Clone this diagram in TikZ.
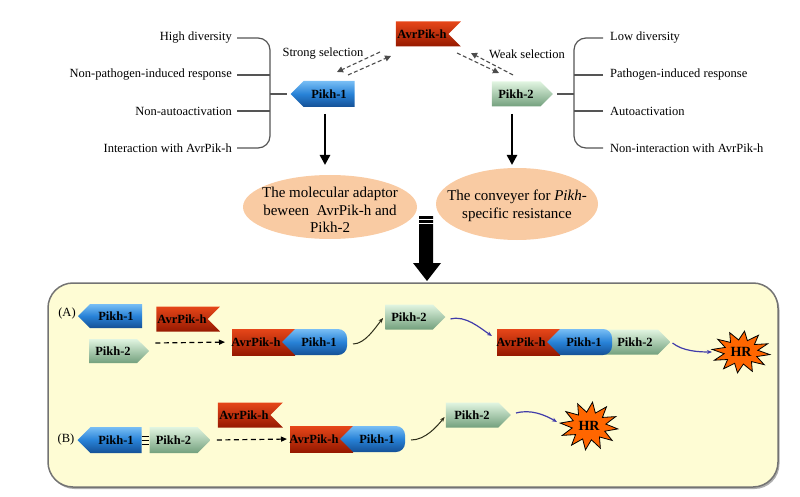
\documentclass[tikz,border=0pt]{standalone}
\usepackage{fontspec}
\setmainfont{Liberation Serif}
\usetikzlibrary{shapes.symbols,shapes.geometric,arrows.meta,calc,shadows}
\definecolor{bluT}{RGB}{120,190,245}
\definecolor{bluM}{RGB}{40,130,215}
\definecolor{bluB}{RGB}{20,80,150}
\definecolor{grnT}{RGB}{225,245,225}
\definecolor{grnB}{RGB}{115,160,125}
\definecolor{redT}{RGB}{230,70,25}
\definecolor{redB}{RGB}{150,25,0}
\definecolor{peach}{RGB}{249,203,163}
\definecolor{panelfill}{RGB}{254,252,212}
\definecolor{hrorange}{RGB}{255,102,0}
\definecolor{brkgray}{RGB}{85,85,85}
\definecolor{curvblue}{RGB}{65,60,170}
\definecolor{curvdark}{RGB}{45,45,25}
\tikzset{
  lab/.style={font=\fontsize{12.5}{14}\selectfont, inner sep=1pt},
  nl/.style={font=\fontsize{12.5}{14}\selectfont\bfseries, text=black},
  pikone/.style={signal, signal to=west, signal pointer angle=90, draw=none,
    top color=bluT, bottom color=bluB, middle color=bluM,
    minimum height=26, minimum width=64, inner sep=1pt, nl},
  piktwo/.style={signal, signal to=east, signal pointer angle=90, draw=none,
    top color=grnT, bottom color=grnB,
    minimum height=25, minimum width=61, inner sep=1pt, nl},
  flagbox/.style={signal, signal to=nowhere, signal from=east, signal pointer angle=90, draw=none,
    top color=redT, bottom color=redB,
    minimum height=25, minimum width=65, inner sep=1pt, nl},
  brk/.style={draw=brkgray, line width=1.2},
  downarr/.style={line width=2.6, -{Triangle[length=10,width=10]}},
  dsel/.style={draw=black!70, line width=1.1, dash pattern=on 4 off 2.5, -{Triangle[length=6,width=6]}},
  dbot/.style={draw=black, line width=1.2, dash pattern=on 5 off 3.5, -{Triangle[length=6,width=5]}},
  curvd/.style={draw=curvdark, line width=1, -{Stealth[length=5,width=4]}},
  curvb/.style={draw=curvblue, line width=1.2, -{Stealth[length=5,width=4]}},
  ell/.style={ellipse, fill=peach, draw=none},
  elltext/.style={font=\fontsize{15}{17.5}\selectfont, align=center, inner sep=0},
  hrstar/.style={fill=hrorange, draw=black, line width=0.8},
  cplx/.pic={
    \shade[top color=redT, bottom color=redB] (-50,-13) rectangle (13,13);
    \shade[top color=bluT, bottom color=bluB, middle color=bluM]
      (0,0) -- (13,-13) -- (56,-13) .. controls (61,-13) and (65,-9) .. (65,-4)
      -- (65,4) .. controls (65,9) and (61,13) .. (56,13) -- (13,13) -- cycle;
    \node[nl] (-avr) at (-26,0) {AvrPik-h};
    \node[nl] (-p1) at (37,0) {Pikh-1};
    \coordinate (-in) at (-50,0);
    \coordinate (-out) at (65,0);
  }
}
\newcommand{\hrshape}[3]{%
  \filldraw[hrstar] plot[samples=25, domain=0:24, variable=\k]
    ({#1 + ifthenelse(mod(round(\k),2)==0,29,17)*cos(\k*15+7)},
     {#2 + ifthenelse(mod(round(\k),2)==0,#3,#3*0.58)*sin(\k*15+7)}) -- cycle;}

\begin{document}
\begin{tikzpicture}[x=1pt,y=-1pt]
\useasboundingbox (0,0) rectangle (800,497);

% ---------- top part ----------
\node[flagbox] (avr) at (422,34) {AvrPik-h};
\node[pikone] (p1) at (329,94) {Pikh-1};
\node[piktwo] (p2) at (516,94) {Pikh-2};

\node[lab] (ss) at (323,54) {Strong selection};
\node[lab] (ws) at (527,54) {Weak selection};

\coordinate (la1) at (380,52); \coordinate (la2) at (337,72);
\coordinate (lb1) at (348,75); \coordinate (lb2) at (391,56);
\draw[dsel] (la1) -- (la2);
\draw[dsel] (lb1) -- (lb2);
\coordinate (ra1) at (457,53); \coordinate (ra2) at (499,73);
\coordinate (rb1) at (513,75); \coordinate (rb2) at (471,53);
\draw[dsel] (ra1) -- (ra2);
\draw[dsel] (rb1) -- (rb2);

% left labels
\node[lab, anchor=east] (l1) at (233,38) {High diversity};
\node[lab, anchor=east] (l2) at (233,75) {Non-pathogen-induced response};
\node[lab, anchor=east] (l3) at (233,111) {Non-autoactivation};
\node[lab, anchor=east] (l4) at (233,148) {Interaction with AvrPik-h};
\draw[brk, rounded corners=12] ($(l1.east)+(4,0)$) -- (270,38) -- (270,148) -- ($(l4.east)+(4,0)$);
\draw[brk] ($(l2.east)+(4,0)$) -- (270,75);
\draw[brk] ($(l3.east)+(4,0)$) -- (270,111);
\draw[brk] (270,94) -- ($(p1.west)+(-3,0)$);

% right labels
\node[lab, anchor=west] (r1) at (609,38) {Low diversity};
\node[lab, anchor=west] (r2) at (609,75) {Pathogen-induced response};
\node[lab, anchor=west] (r3) at (609,111) {Autoactivation};
\node[lab, anchor=west] (r4) at (609,148) {Non-interaction with AvrPik-h};
\draw[brk, rounded corners=12] ($(r1.west)+(-6,0)$) -- (574,38) -- (574,148) -- ($(r4.west)+(-6,0)$);
\draw[brk] ($(r2.west)+(-6,0)$) -- (574,75);
\draw[brk] ($(r3.west)+(-6,0)$) -- (574,111);
\draw[brk] ($(p2.east)+(4,0)$) -- (574,94);

% ellipses
\node[ell, minimum width=174, minimum height=64] (el1) at (330,207) {};
\node[elltext] (et1) at (330,210) {The molecular adaptor\\beween~ AvrPik-h and\\Pikh-2};
\node[ell, minimum width=162, minimum height=72] (el2) at (517,204) {};
\node[elltext] (et2) at (517,206) {The conveyer for \textit{Pikh}-\\specific resistance};

\coordinate (d1a) at (325,114); \coordinate (d1b) at (325,165);
\coordinate (d2a) at (512,114); \coordinate (d2b) at (512,165);
\draw[downarr] (d1a) -- (d1b);
\draw[downarr] (d2a) -- (d2b);

% big arrow
\fill[black] (419,216) -- (433,216) -- (433,263) -- (441,263) -- (427,281) -- (413,263) -- (419,263) -- cycle;
\draw[white, line width=1] (418,219.5) -- (434,219.5);
\draw[white, line width=1] (418,223.5) -- (434,223.5);

% ---------- panel ----------
\node[draw=black!55, line width=1.5, fill=panelfill, rounded corners=25,
      minimum width=730, minimum height=204,
      drop shadow={shadow xshift=1.5pt, shadow yshift=-2pt, fill=black!45, opacity=0.7}] (panel) at (413,385) {};

% row A
\node[lab] (labA) at (67,313) {(A)};
\node[pikone, minimum height=24] (p1a) at (116,316) {Pikh-1};
\node[flagbox, minimum width=63] (avra) at (182,319) {AvrPik-h};
\node[piktwo, minimum width=60, minimum height=24] (p2a) at (113,351) {Pikh-2};
\pic (ca) at (282,342) {cplx};
\draw[dbot, shorten >=7] ($(p2a.east)+(6,-8)$) -- (ca-in);
\node[piktwo, minimum width=60] (p2ab) at (409,317) {Pikh-2};
\draw[curvd] ($(ca-out)+(6,2)$) .. controls +(12,0) and +(-8,10) .. ($(p2ab.west)+(-2,1)$);
\node[piktwo, minimum width=66, minimum height=25] (p2d) at (631,342) {};
\pic (cc) at (547,342) {cplx};
\node[nl] (p2dt) at (635,342) {Pikh-2};
\draw[curvb] ($(p2ab.east)+(5,2)$) .. controls +(15,-4) and +(-12,-8) .. ($(cc-in)+(-5,-6)$);
\node[inner sep=0] (hra0) at (741,352) {};
\draw[curvb] ($(p2d.east)+(2,1)$) .. controls +(10,8) and +(-14,0) .. ($(hra0)+(-29,0)$);
\hrshape{741}{352}{21}
\node[nl, font=\fontsize{14}{16}\selectfont\bfseries] (hra) at (741,352) {HR};

% row B
\node[lab] (labB) at (66,439) {(B)};
\node[pikone] (p1b) at (116,440) {Pikh-1};
\node[piktwo, minimum width=61, minimum height=26] (p2b) at (173.5,440) {Pikh-2};
\foreach \d in {-4,0,4}
  \draw[line width=1] ($(p1b.east)+(0,\d)$) -- ($(p2b.west)+(0,\d)$);
\node[flagbox] (avrb) at (244,415) {AvrPik-h};
\pic (cb) at (340,439) {cplx};
\draw[dbot, shorten >=3] ($(p2b.east)+(6,0)$) -- (cb-in);
\node[piktwo, minimum width=65] (p2c) at (472,415) {Pikh-2};
\draw[curvd] ($(cb-out)+(6,1)$) .. controls +(14,0) and +(-8,10) .. ($(p2c.west)+(-1,2)$);
\node[inner sep=0] (hrb0) at (589,426) {};
\draw[curvb] ($(p2c.east)+(5,-2)$) .. controls +(15,-4) and +(-12,-7) .. ($(hrb0)+(-32,-4)$);
\hrshape{589}{426}{24}
\node[nl, font=\fontsize{14}{16}\selectfont\bfseries] (hrb) at (589,426) {HR};
\end{tikzpicture}
\end{document}
